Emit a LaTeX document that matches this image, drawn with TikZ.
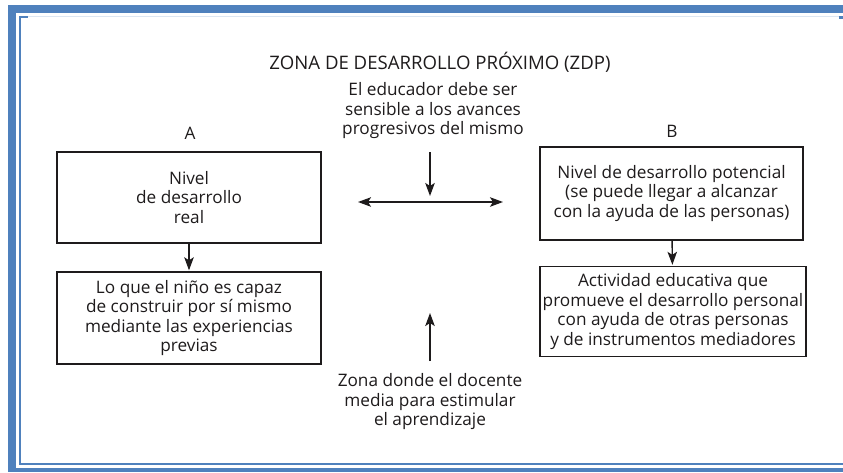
\documentclass[tikz,border=0pt]{standalone}
\usepackage{fontspec}
\setmainfont{Open Sans}
\usepackage[dvipsnames]{xcolor}
\usetikzlibrary{arrows.meta}
\definecolor{framblue}{HTML}{4F81BD}
\definecolor{palblue}{HTML}{DCE6F2}
\definecolor{ink}{HTML}{1E1B1C}

\begin{document}
\begin{tikzpicture}[x=1pt,y=-1pt,->,>={Stealth[length=13pt,width=9.5pt,inset=3pt]},shorten >=1pt,thick,
    line width=1.4pt,draw=ink,
    every node/.style={text=ink,font=\fontsize{17.2}{19.5}\selectfont},
    box/.style={draw=ink,line width=1.4pt,align=center,inner sep=0pt},
    note/.style={align=center,inner sep=0pt}]
            \useasboundingbox (0,0) rectangle (843,472);

            % blue frame of the scan
            \fill[framblue] (8,5) rectangle (16,472);
            \fill[framblue] (8,5) rectangle (843,13);
            \fill[framblue] (8,468) rectangle (843,472);
            \fill[palblue] (19,15.5) rectangle (843,17);
            \fill[framblue] (19,16) rectangle (21,465);
            \fill[framblue] (19,463) rectangle (843,465);
            \fill[framblue] (19,16) rectangle (28,18);
            \fill[framblue] (839,16) rectangle (843,19);

            \node[note,font=\fontsize{18.6}{20}\selectfont] (title) at (440,62) {ZONA DE DESARROLLO PRÓXIMO (ZDP)};
            \node[note] (top) at (433,111) {El educador debe ser\\sensible a los avances\\progresivos del mismo};
            \node[note] (bottom) at (430,402) {Zona donde el docente\\media para estimular\\el aprendizaje};

            \node[note] (la) at (190,133) {A};
            \node[note] (lb) at (672,131) {B};

            \node[box,minimum width=264,minimum height=91] (A) at (189,197.5) {Nivel\\de desarrollo\\real};
            \node[box,minimum width=264,minimum height=92] (A2) at (189,318) {Lo que el niño es capaz\\de construir por sí mismo\\mediante las experiencias\\previas};
            \node[box,minimum width=263,minimum height=93] (B) at (671.5,193.5) {Nivel de desarrollo potencial\\(se puede llegar a alcanzar\\con la ayuda de las personas)};
            \node[box,minimum width=266,minimum height=90] (B2) at (673,311.5) {Actividad educativa que\\promueve el desarrollo personal\\con ayuda de otras personas\\y de instrumentos mediadores};

            \coordinate (dtop) at (430,152);
            \coordinate (hub) at (430,197);
            \coordinate (hl) at (357,202);
            \coordinate (hr) at (504,202);
            \coordinate (utail) at (430,361);
            \coordinate (utip) at (430,312);

            \path
                (A) edge (A2)
                (B) edge (B2)
                (dtop) edge (hub)
                (utail) edge (utip)
                (hl) edge[<->,shorten <=1pt] (hr)
                ;
        \end{tikzpicture}
\end{document}
